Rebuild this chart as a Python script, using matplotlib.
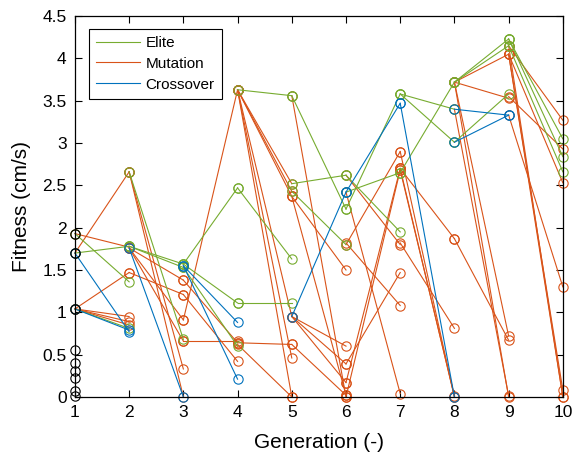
"""
Fitness per generation: parent -> child links coloured by operator.
"""

import matplotlib
matplotlib.use("Agg")
import matplotlib.pyplot as plt
from matplotlib.lines import Line2D


# ==========================================================
# DATA  (generation, parent fitness, child fitness)
# ==========================================================

initial_population = [1.93, 1.70, 1.04, 0.56, 0.40, 0.31, 0.22, 0.07, 0.01]

elite_links = [
    (1, 1.93, 1.36), (1, 1.70, 1.78), (1, 1.04, 0.81),
    (2, 1.78, 1.57), (2, 1.78, 1.53), (2, 2.66, 0.68),
    (3, 1.57, 2.47), (3, 1.57, 1.11), (3, 1.53, 0.60),
    (4, 3.63, 3.56), (4, 2.47, 1.63), (4, 1.11, 1.11),
    (5, 3.56, 2.22), (5, 2.52, 2.62), (5, 2.43, 1.80),
    (6, 2.22, 3.58), (6, 2.62, 1.95), (6, 2.42, 2.65),
    (7, 3.58, 3.40), (7, 3.58, 3.01), (7, 2.65, 3.72),
    (8, 3.72, 4.23), (8, 3.72, 4.15), (8, 3.01, 3.58),
    (9, 4.23, 3.05), (9, 4.23, 2.84), (9, 4.15, 2.66),
]

mutation_links = [
    (1, 1.93, 1.77), (1, 1.70, 2.66), (1, 1.04, 1.47),
    (1, 1.04, 0.95), (1, 1.04, 0.89), (1, 1.04, 0.85),
    (2, 1.76, 1.38), (2, 1.76, 0.91), (2, 1.47, 1.21),
    (2, 2.66, 0.00), (2, 2.66, 0.33), (2, 1.76, 0.66),
    (3, 0.91, 3.63), (3, 1.38, 0.64), (3, 1.21, 0.42),
    (3, 0.66, 0.66),
    (4, 3.63, 2.52), (4, 3.63, 2.43), (4, 3.63, 2.37),
    (4, 3.63, 0.95), (4, 3.63, 0.46), (4, 3.63, 0.00),
    (4, 0.64, 0.62), (4, 0.62, 0.00),
    (5, 3.56, 0.00), (5, 2.37, 1.50), (5, 2.37, 0.02),
    (5, 0.95, 0.60), (5, 0.95, 0.39), (5, 0.95, 0.17),
    (5, 0.62, 0.02),
    (6, 2.62, 1.80), (6, 1.80, 2.90), (6, 1.82, 1.08),
    (6, 2.42, 0.04), (6, 0.17, 2.70), (6, 0.00, 2.68),
    (6, 0.39, 1.47),
    (7, 2.90, 0.00), (7, 2.70, 0.00), (7, 2.68, 0.01),
    (7, 2.70, 1.87), (7, 1.82, 0.81),
    (8, 3.72, 4.05), (8, 3.72, 3.53), (8, 3.72, 0.00),
    (8, 3.72, 0.72), (8, 3.40, 0.01), (8, 1.87, 0.67),
    (9, 4.15, 3.27), (9, 3.55, 2.93), (9, 4.05, 2.53),
    (9, 4.05, 0.08), (9, 4.05, 0.00), (9, 4.15, 0.00),
    (9, 3.33, 1.30),
]

crossover_links = [
    (1, 1.70, 0.77), (1, 1.04, 0.79),
    (2, 1.76, 0.00),
    (3, 1.55, 0.88), (3, 1.55, 0.21),
    (5, 0.95, 2.42),
    (6, 2.42, 3.47),
    (7, 3.47, 0.00),
    (8, 3.40, 3.33), (8, 3.01, 3.33),
]

generations = list(range(1, 11))
fitness_ticks = [0, 0.5, 1, 1.5, 2, 2.5, 3, 3.5, 4, 4.5]
fitness_labels = ["0", "0.5", "1", "1.5", "2", "2.5", "3", "3.5", "4", "4.5"]


# ==========================================================
# STYLE
# ==========================================================

ELITE_COLOR = "#77AC30"
MUTATION_COLOR = "#D95319"
CROSSOVER_COLOR = "#0072BD"

plt.rcParams["font.family"] = ["Liberation Sans", "DejaVu Sans"]


def draw_links(ax, links, color):
    for gen, parent, child in links:
        ax.plot(
            [gen, gen + 1], [parent, child],
            "-o", color=color, linewidth=0.8,
            markersize=6.7, markerfacecolor="none",
            markeredgewidth=0.8, clip_on=False
        )


def main():

    fig = plt.figure(figsize=(5.72, 4.61), dpi=100)
    ax = fig.add_axes([0.131, 0.139, 0.853, 0.826])

    draw_links(ax, mutation_links, MUTATION_COLOR)
    draw_links(ax, elite_links, ELITE_COLOR)
    draw_links(ax, crossover_links, CROSSOVER_COLOR)

    ax.plot(
        [1] * len(initial_population), initial_population,
        "o", color="black", markersize=6.7,
        markerfacecolor="none", markeredgewidth=0.8, clip_on=False
    )

    ax.set_xlim(1, 10)
    ax.set_ylim(0, 4.5)
    ax.set_xticks(generations)
    ax.set_yticks(fitness_ticks)
    ax.set_yticklabels(fitness_labels)
    ax.tick_params(direction="in", top=True, right=True,
                   labelsize=12.5, length=5, width=0.8, pad=6)
    for s in ax.spines.values():
        s.set_linewidth(0.9)

    ax.set_xlabel("Generation (-)", fontsize=15, labelpad=9)
    ax.set_ylabel("Fitness (cm/s)", fontsize=15, labelpad=8)

    handles = [
        Line2D([], [], color=ELITE_COLOR, linewidth=0.8),
        Line2D([], [], color=MUTATION_COLOR, linewidth=0.8),
        Line2D([], [], color=CROSSOVER_COLOR, linewidth=0.8),
    ]
    leg = ax.legend(
        handles, ["Elite", "Mutation", "Crossover"],
        loc="upper left", bbox_to_anchor=(0.029, 0.966),
        borderaxespad=0, fontsize=11, handlelength=2.9,
        fancybox=False, edgecolor="black", framealpha=1,
        labelspacing=0.45, borderpad=0.45, handletextpad=0.35
    )
    leg.get_frame().set_linewidth(0.8)

    fig.savefig("out.png", dpi=100)


if __name__ == "__main__":

    main()
